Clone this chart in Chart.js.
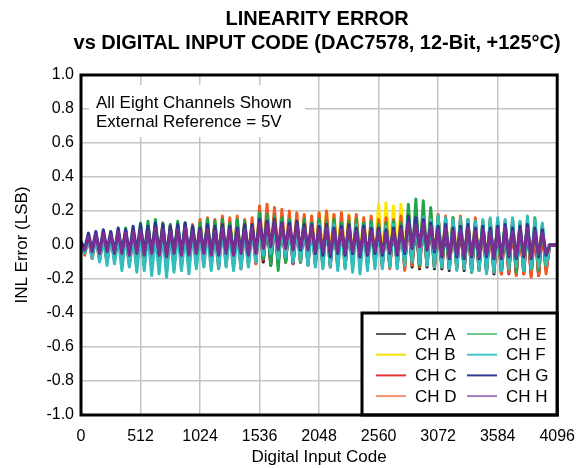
<!DOCTYPE html>
<html>
<head>
<meta charset="utf-8">
<title>Linearity Error vs Digital Input Code</title>
<script src="https://cdn.jsdelivr.net/npm/chart.js@4.4.1/dist/chart.umd.min.js"></script>
<style>
    html, body { margin: 0; padding: 0; background: #fff; }
</style>
</head>
<body>
<canvas id="inl_chart" width="587" height="468"></canvas>
<script>
// INL error (LSB), one value per 32 codes (peaks and troughs alternate)
const chA = [
    0.01,-0.04,0.05,-0.06,0.06,-0.07,0.06,-0.08,0.07,-0.07,0.07,-0.09,0.08,-0.08,0.07,-0.09,
    0.10,-0.09,0.11,-0.10,0.10,-0.09,0.11,-0.10,0.10,-0.09,0.11,-0.10,0.10,-0.09,0.09,-0.08,
    0.10,-0.09,0.11,-0.10,0.10,-0.09,0.11,-0.10,0.10,-0.09,0.11,-0.10,0.10,-0.09,0.11,-0.08,
    0.15,-0.10,0.14,-0.12,0.13,-0.11,0.14,-0.10,0.13,-0.11,0.12,-0.10,0.13,-0.11,0.12,-0.10,
    0.13,-0.11,0.14,-0.12,0.12,-0.11,0.13,-0.12,0.12,-0.11,0.13,-0.12,0.11,-0.11,0.12,-0.10,
    0.11,-0.11,0.12,-0.12,0.11,-0.11,0.12,-0.12,0.15,-0.13,0.14,-0.14,0.15,-0.13,0.13,-0.14,
    0.12,-0.14,0.11,-0.15,0.12,-0.14,0.11,-0.15,0.12,-0.16,0.11,-0.15,0.12,-0.16,0.11,-0.17,
    0.12,-0.17,0.11,-0.16,0.12,-0.17,0.10,-0.16,0.11,-0.17,0.10,-0.18,0.08,-0.14,0.00,0.00,0.00
];
const chB = [
    0.01,-0.03,0.05,-0.05,0.06,-0.06,0.07,-0.05,0.07,-0.06,0.08,-0.06,0.09,-0.07,0.08,-0.06,
    0.11,-0.07,0.12,-0.08,0.11,-0.07,0.12,-0.08,0.11,-0.07,0.12,-0.07,0.11,-0.08,0.10,-0.07,
    0.12,-0.07,0.13,-0.08,0.12,-0.07,0.13,-0.08,0.12,-0.07,0.13,-0.08,0.12,-0.07,0.13,-0.06,
    0.17,-0.04,0.16,-0.05,0.17,-0.06,0.15,-0.05,0.16,-0.06,0.15,-0.07,0.16,-0.08,0.17,-0.07,
    0.19,-0.08,0.20,-0.07,0.18,-0.08,0.19,-0.09,0.18,-0.08,0.17,-0.07,0.16,-0.08,0.15,-0.07,
    0.24,-0.08,0.25,-0.07,0.23,-0.08,0.24,-0.07,0.20,-0.06,0.19,-0.07,0.20,-0.06,0.18,-0.07,
    0.16,-0.08,0.15,-0.09,0.16,-0.08,0.14,-0.09,0.13,-0.08,0.14,-0.09,0.12,-0.08,0.13,-0.09,
    0.12,-0.09,0.11,-0.08,0.12,-0.09,0.10,-0.08,0.11,-0.09,0.12,-0.08,0.09,-0.07,0.00,0.00,0.00
];
const chC = [
    0.01,-0.05,0.04,-0.08,0.05,-0.09,0.06,-0.10,0.05,-0.09,0.06,-0.11,0.07,-0.12,0.06,-0.13,
    0.09,-0.12,0.10,-0.14,0.09,-0.13,0.10,-0.15,0.09,-0.14,0.10,-0.13,0.11,-0.14,0.09,-0.12,
    0.10,-0.12,0.11,-0.13,0.10,-0.14,0.11,-0.12,0.10,-0.13,0.11,-0.14,0.10,-0.12,0.12,-0.11,
    0.16,-0.09,0.15,-0.10,0.14,-0.11,0.15,-0.10,0.14,-0.11,0.13,-0.10,0.14,-0.12,0.13,-0.11,
    0.14,-0.12,0.15,-0.13,0.13,-0.12,0.14,-0.13,0.13,-0.12,0.14,-0.13,0.12,-0.12,0.13,-0.11,
    0.12,-0.12,0.13,-0.13,0.12,-0.12,0.13,-0.13,0.16,-0.11,0.15,-0.12,0.16,-0.11,0.14,-0.12,
    0.13,-0.13,0.12,-0.14,0.13,-0.13,0.12,-0.14,0.11,-0.15,0.12,-0.14,0.11,-0.15,0.12,-0.16,
    0.12,-0.16,0.11,-0.17,0.12,-0.16,0.10,-0.17,0.11,-0.18,0.10,-0.17,0.09,-0.15,0.00,0.00,0.00
];
const chD = [
    0.02,-0.06,0.05,-0.08,0.06,-0.09,0.05,-0.10,0.06,-0.09,0.07,-0.11,0.06,-0.10,0.08,-0.12,
    0.10,-0.11,0.11,-0.12,0.10,-0.11,0.13,-0.12,0.12,-0.10,0.11,-0.11,0.13,-0.10,0.12,-0.11,
    0.15,-0.10,0.16,-0.11,0.15,-0.12,0.17,-0.10,0.16,-0.11,0.17,-0.12,0.15,-0.10,0.16,-0.11,
    0.23,-0.07,0.24,-0.06,0.22,-0.08,0.21,-0.07,0.20,-0.09,0.19,-0.08,0.18,-0.10,0.17,-0.11,
    0.19,-0.12,0.20,-0.11,0.18,-0.12,0.19,-0.13,0.17,-0.12,0.18,-0.11,0.16,-0.13,0.17,-0.12,
    0.15,-0.13,0.16,-0.14,0.15,-0.13,0.17,-0.15,0.19,-0.12,0.20,-0.13,0.18,-0.12,0.19,-0.13,
    0.18,-0.13,0.17,-0.14,0.16,-0.13,0.17,-0.14,0.15,-0.13,0.16,-0.15,0.14,-0.14,0.15,-0.16,
    0.15,-0.17,0.14,-0.16,0.15,-0.18,0.13,-0.17,0.14,-0.19,0.12,-0.18,0.11,-0.17,0.00,0.00,0.00
];
const chE = [
    0.01,-0.04,0.06,-0.06,0.07,-0.07,0.08,-0.06,0.07,-0.08,0.09,-0.07,0.10,-0.08,0.09,-0.07,
    0.13,-0.08,0.14,-0.09,0.15,-0.08,0.13,-0.10,0.12,-0.09,0.14,-0.08,0.13,-0.09,0.11,-0.08,
    0.13,-0.08,0.15,-0.09,0.14,-0.10,0.15,-0.09,0.13,-0.08,0.15,-0.10,0.14,-0.09,0.12,-0.08,
    0.19,-0.08,0.18,-0.12,0.17,-0.15,0.16,-0.10,0.15,-0.09,0.14,-0.10,0.15,-0.11,0.13,-0.12,
    0.15,-0.13,0.14,-0.12,0.15,-0.13,0.13,-0.12,0.14,-0.13,0.15,-0.12,0.13,-0.11,0.14,-0.12,
    0.12,-0.11,0.13,-0.12,0.14,-0.11,0.13,-0.12,0.24,-0.10,0.27,-0.12,0.26,-0.11,0.22,-0.12,
    0.17,-0.12,0.15,-0.13,0.16,-0.12,0.14,-0.13,0.15,-0.14,0.13,-0.13,0.14,-0.15,0.15,-0.14,
    0.14,-0.15,0.13,-0.14,0.15,-0.16,0.13,-0.15,0.14,-0.14,0.16,-0.15,0.12,-0.12,0.00,0.00,0.00
];
const chF = [
    0.01,-0.05,0.04,-0.08,0.05,-0.10,0.04,-0.12,0.05,-0.11,0.04,-0.15,0.06,-0.13,0.05,-0.16,
    0.06,-0.15,0.07,-0.18,0.06,-0.17,0.07,-0.19,0.06,-0.16,0.07,-0.15,0.06,-0.17,0.07,-0.14,
    0.06,-0.13,0.07,-0.15,0.06,-0.14,0.08,-0.13,0.07,-0.15,0.06,-0.14,0.07,-0.13,0.08,-0.10,
    0.10,-0.06,0.11,-0.05,0.10,-0.08,0.09,-0.07,0.10,-0.10,0.09,-0.09,0.11,-0.12,0.10,-0.13,
    0.12,-0.14,0.11,-0.13,0.12,-0.15,0.10,-0.14,0.11,-0.16,0.12,-0.17,0.10,-0.15,0.11,-0.14,
    0.10,-0.14,0.11,-0.13,0.12,-0.14,0.10,-0.12,0.16,-0.10,0.15,-0.11,0.16,-0.12,0.15,-0.13,
    0.17,-0.13,0.16,-0.14,0.15,-0.15,0.16,-0.14,0.15,-0.16,0.14,-0.15,0.15,-0.17,0.16,-0.16,
    0.16,-0.15,0.15,-0.14,0.16,-0.13,0.14,-0.15,0.17,-0.14,0.15,-0.13,0.13,-0.12,0.00,0.00,0.00
];
const chG = [
    0.02,-0.02,0.07,-0.03,0.08,-0.04,0.09,-0.03,0.08,-0.04,0.10,-0.04,0.09,-0.05,0.11,-0.04,
    0.12,-0.05,0.11,-0.04,0.13,-0.05,0.12,-0.06,0.11,-0.04,0.12,-0.05,0.13,-0.05,0.11,-0.04,
    0.10,-0.04,0.12,-0.05,0.11,-0.05,0.12,-0.04,0.11,-0.05,0.10,-0.04,0.12,-0.05,0.12,-0.04,
    0.15,-0.01,0.14,0.00,0.15,-0.02,0.13,-0.01,0.13,-0.02,0.14,-0.03,0.12,-0.02,0.12,-0.05,
    0.11,-0.06,0.12,-0.07,0.10,-0.05,0.11,-0.06,0.12,-0.05,0.10,-0.07,0.11,-0.06,0.10,-0.05,
    0.10,-0.06,0.09,-0.05,0.10,-0.06,0.11,-0.05,0.17,-0.02,0.16,-0.01,0.15,-0.03,0.13,-0.04,
    0.11,-0.07,0.12,-0.08,0.10,-0.07,0.11,-0.08,0.12,-0.07,0.10,-0.08,0.11,-0.07,0.10,-0.08,
    0.11,-0.08,0.12,-0.07,0.10,-0.08,0.11,-0.07,0.12,-0.08,0.10,-0.07,0.09,-0.06,0.00,0.00,0.00
];
const chH = [
    0.00,-0.03,0.05,-0.04,0.06,-0.05,0.07,-0.04,0.06,-0.05,0.08,-0.05,0.07,-0.06,0.08,-0.05,
    0.09,-0.06,0.08,-0.05,0.10,-0.06,0.09,-0.07,0.08,-0.05,0.09,-0.06,0.10,-0.06,0.08,-0.05,
    0.08,-0.05,0.09,-0.06,0.08,-0.06,0.10,-0.05,0.09,-0.06,0.08,-0.05,0.09,-0.06,0.10,-0.05,
    0.13,-0.02,0.12,-0.01,0.14,-0.03,0.12,-0.02,0.11,-0.03,0.12,-0.02,0.10,-0.03,0.11,-0.04,
    0.09,-0.04,0.10,-0.05,0.08,-0.04,0.09,-0.05,0.10,-0.04,0.08,-0.06,0.09,-0.05,0.08,-0.04,
    0.08,-0.05,0.07,-0.04,0.08,-0.05,0.09,-0.04,0.13,-0.02,0.12,-0.01,0.13,-0.02,0.11,-0.03,
    0.09,-0.06,0.10,-0.07,0.08,-0.06,0.09,-0.07,0.10,-0.06,0.08,-0.07,0.09,-0.06,0.08,-0.07,
    0.09,-0.07,0.10,-0.06,0.08,-0.07,0.09,-0.06,0.10,-0.07,0.08,-0.06,0.07,-0.05,0.00,0.00,0.00
];

const channelNames = ['CH A', 'CH B', 'CH C', 'CH D', 'CH E', 'CH F', 'CH G', 'CH H'];
const channelData = [chA, chB, chC, chD, chE, chF, chG, chH];
const lineColors = ['#141414', '#ffe500', '#e2202b', '#f25a22', '#1fa64a', '#33bebe', '#2b3593', '#7a2e8f'];
const legendColors = ['#5c5c5c', '#f2e400', '#e53238', '#f7916e', '#6ccb8b', '#3ec7c7', '#313b8e', '#a47ac4'];

const xTicks = [0, 512, 1024, 1536, 2048, 2560, 3072, 3584, 4096];
const yTicks = [-1.0, -0.8, -0.6, -0.4, -0.2, 0.0, 0.2, 0.4, 0.6, 0.8, 1.0];
const titleLines = ['LINEARITY ERROR', 'vs DIGITAL INPUT CODE (DAC7578, 12-Bit, +125\u00B0C)'];
const noteLines = ['All Eight Channels Shown', 'External Reference = 5V'];

const sampleStep = 32;
const lastCode = 4095;

const FONT = '"Liberation Sans", Arial, Helvetica, sans-serif';
Chart.defaults.font.family = FONT;
Chart.defaults.color = '#000';

// title, frame, note box and legend drawn on top of the plot
const decorations = {
    id: 'decorations',
    afterDraw(chart) {
        const ctx = chart.ctx;
        const a = chart.chartArea;
        ctx.save();

        ctx.fillStyle = '#000';
        ctx.font = 'bold 20px ' + FONT;
        ctx.textAlign = 'center';
        ctx.textBaseline = 'middle';
        const cx = (a.left + a.right) / 2 - 2;
        ctx.fillText(titleLines[0], cx, 19);
        ctx.fillText(titleLines[1], cx, 43);

        // note in the top left corner
        ctx.fillStyle = '#fff';
        ctx.fillRect(a.left + 8, a.top + 10, 216, 52);
        ctx.fillStyle = '#000';
        ctx.font = '17px ' + FONT;
        ctx.textAlign = 'left';
        ctx.fillText(noteLines[0], a.left + 15, a.top + 28);
        ctx.fillText(noteLines[1], a.left + 15, a.top + 47);

        // legend box, bottom right
        const lx = 362, ly = 313;
        ctx.fillStyle = '#fff';
        ctx.fillRect(lx, ly, a.right - lx, a.bottom - ly);
        ctx.strokeStyle = '#000';
        ctx.lineWidth = 3;
        ctx.strokeRect(lx, ly, a.right - lx, a.bottom - ly);
        ctx.font = '17px ' + FONT;
        channelNames.forEach(function (name, i) {
            const col = Math.floor(i / 4);
            const row = i % 4;
            const x0 = lx + 14 + col * 91;
            const y0 = ly + 21 + row * 20.7;
            ctx.strokeStyle = legendColors[i];
            ctx.lineWidth = 2;
            ctx.beginPath();
            ctx.moveTo(x0, y0);
            ctx.lineTo(x0 + 30, y0);
            ctx.stroke();
            ctx.fillStyle = '#000';
            ctx.fillText(name, x0 + 39, y0 + 1);
        });

        // plot frame
        ctx.strokeStyle = '#000';
        ctx.lineWidth = 3;
        ctx.strokeRect(a.left, a.top, a.right - a.left, a.bottom - a.top);
        ctx.restore();
    }
};

const datasets = channelData.map(function (values, idx) {
    return {
        label: channelNames[idx],
        data: values.map(function (v, i) {
            return { x: i < values.length - 1 ? i * sampleStep : lastCode, y: v };
        }),
        borderColor: lineColors[idx],
        backgroundColor: lineColors[idx],
        borderWidth: 3,
        borderJoinStyle: 'round',
        pointRadius: 0,
        tension: 0,
        fill: false,
        order: channelNames.length - 1 - idx // CH H ends up on top
    };
});

const ctx = document.getElementById('inl_chart').getContext('2d');
const chart = new Chart(ctx, {
    type: 'line',
    data: { datasets: datasets },
    options: {
        responsive: false,
        animation: false,
        events: [],
        layout: { padding: { top: 75, right: 25, left: 0, bottom: 0 } },
        plugins: {
            legend: { display: false },
            title: { display: false },
            tooltip: { enabled: false }
        },
        scales: {
            x: {
                type: 'linear',
                min: 0,
                max: 4096,
                afterFit: function (scale) { scale.height = 53; },
                afterBuildTicks: function (scale) { scale.ticks = xTicks.map(v => ({ value: v })); },
                grid: { color: '#c4c4c4', lineWidth: 1.5, drawTicks: false },
                border: { display: false },
                ticks: {
                    autoSkip: false,
                    maxRotation: 0,
                    padding: 12,
                    font: { size: 16 },
                    callback: function (value) { return String(value); }
                },
                title: {
                    display: true,
                    text: 'Digital Input Code',
                    font: { size: 17 },
                    padding: { top: 0, bottom: 0 }
                }
            },
            y: {
                min: -1.0,
                max: 1.0,
                afterFit: function (scale) { scale.width = 81; },
                afterBuildTicks: function (scale) { scale.ticks = yTicks.map(v => ({ value: v })); },
                grid: { color: '#c4c4c4', lineWidth: 1.5, drawTicks: false },
                border: { display: false },
                ticks: {
                    padding: 7,
                    font: { size: 16 },
                    callback: function (value) { return Number(value).toFixed(1); }
                },
                title: {
                    display: true,
                    text: 'INL Error (LSB)',
                    font: { size: 17 },
                    padding: { top: 12, bottom: 0 }
                }
            }
        }
    },
    plugins: [decorations]
});
</script>
</body>
</html>
